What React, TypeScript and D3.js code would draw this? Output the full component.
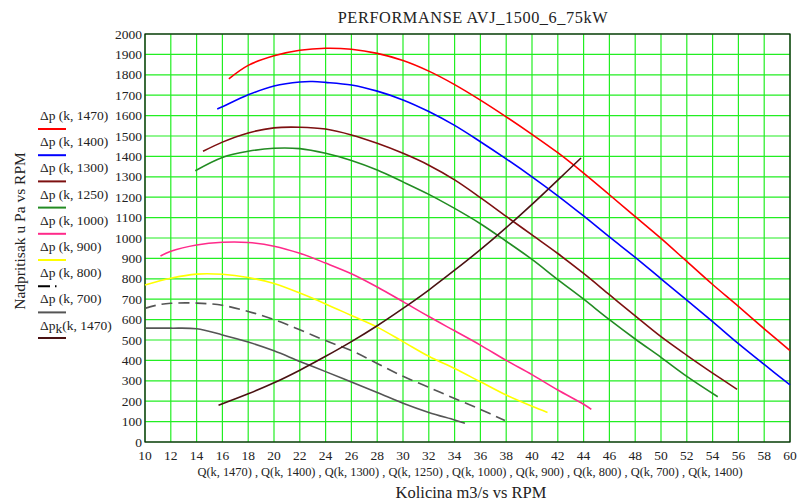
import React from "react";
import * as d3 from "d3";

const W = 798;
const H = 502;

const xTicks = [10, 12, 14, 16, 18, 20, 22, 24, 26, 28, 30, 32, 34, 36, 38, 40, 42, 44, 46, 48, 50, 52, 54, 56, 58, 60];
const yTicks = [0, 100, 200, 300, 400, 500, 600, 700, 800, 900, 1000, 1100, 1200, 1300, 1400, 1500, 1600, 1700, 1800, 1900, 2000];

const q1470 = [16.5, 18, 20, 22, 24, 26, 28, 30, 32, 34, 36, 38, 40, 42, 44, 46, 48, 50, 52, 54, 56, 58, 60];
const p1470 = [1780, 1846, 1893, 1920, 1930, 1925, 1905, 1870, 1818, 1752, 1676, 1594, 1508, 1418, 1318, 1212, 1105, 998, 885, 772, 665, 555, 448];

const q1400 = [15.6, 16, 18, 20, 22, 23, 24, 26, 28, 30, 32, 34, 36, 38, 40, 42, 44, 46, 48, 50, 52, 54, 56, 58, 60];
const p1400 = [1632, 1643, 1702, 1745, 1765, 1767, 1763, 1750, 1720, 1677, 1620, 1552, 1472, 1388, 1300, 1207, 1108, 1005, 905, 800, 696, 590, 482, 380, 280];

const q1300 = [14.5, 16, 18, 20, 22, 24, 26, 28, 30, 32, 34, 36, 38, 40, 42, 44, 46, 48, 50, 52, 54, 55.9];
const p1300 = [1425, 1470, 1515, 1540, 1543, 1534, 1505, 1464, 1415, 1357, 1285, 1198, 1106, 1015, 924, 826, 722, 618, 516, 425, 338, 258];

const q1250 = [13.9, 16, 18, 20, 22, 24, 26, 28, 30, 32, 34, 36, 38, 40, 42, 44, 46, 48, 50, 52, 54.4];
const p1250 = [1330, 1395, 1425, 1440, 1438, 1415, 1380, 1333, 1275, 1214, 1145, 1070, 984, 895, 796, 700, 600, 505, 415, 322, 222];

const q1000 = [11.2, 12, 14, 16, 18, 20, 22, 24, 26, 28, 30, 32, 34, 36, 38, 40, 42, 44, 44.6];
const p1000 = [912, 935, 966, 979, 978, 960, 925, 877, 825, 760, 688, 615, 545, 475, 400, 330, 255, 185, 160];

const q900 = [10, 12, 14, 16, 18, 20, 22, 24, 26, 28, 30, 32, 34, 36, 38, 40, 41.2];
const p900 = [770, 803, 823, 822, 806, 777, 730, 677, 620, 563, 492, 420, 360, 295, 230, 175, 145];

const q800 = [10, 11, 12, 14, 16, 18, 20, 22, 24, 26, 28, 30, 32, 34, 36, 37.9];
const p800 = [655, 672, 680, 681, 670, 640, 600, 550, 497, 448, 385, 322, 268, 213, 160, 105];

const q700 = [10, 12, 14, 16, 18, 20, 22, 24, 26, 28, 30, 32, 34, 34.8];
const p700 = [558, 558, 555, 525, 490, 447, 395, 345, 294, 243, 190, 145, 108, 92];

const qk1470 = [15.7, 18, 20, 22, 24, 26, 28, 30, 32, 34, 36, 38, 40, 42, 43.8];
const pk1470 = [180, 236, 290, 352, 420, 492, 570, 655, 745, 842, 943, 1051, 1165, 1284, 1392];

const legendLabels = ["Δp (k, 1470)", "Δp (k, 1400)", "Δp (k, 1300)", "Δp (k, 1250)", "Δp (k, 1000)", "Δp (k, 900)", "Δp (k, 800)", "Δp (k, 700)"];

const series = [
  { q: q1470, p: p1470, color: "#ff0000", dash: "" },
  { q: q1400, p: p1400, color: "#0000ff", dash: "" },
  { q: q1300, p: p1300, color: "#7d1010", dash: "" },
  { q: q1250, p: p1250, color: "#238b23", dash: "" },
  { q: q1000, p: p1000, color: "#ff2a8a", dash: "" },
  { q: q900, p: p900, color: "#ffff00", dash: "" },
  { q: q800, p: p800, color: "#555555", dash: "11,6" },
  { q: q700, p: p700, color: "#555555", dash: "" },
  { q: qk1470, p: pk1470, color: "#4a1212", dash: "" },
];

const left = 145, right = 790, top = 34, bottom = 442;

export default function App() {
  const x = d3.scaleLinear().domain([10, 60]).range([left, right]);
  const y = d3.scaleLinear().domain([0, 2000]).range([bottom, top]);
  const line = d3
    .line<[number, number]>()
    .x((d) => x(d[0]))
    .y((d) => y(d[1]))
    .curve(d3.curveCatmullRom.alpha(0.5));

  const font = "'Liberation Serif', 'Times New Roman', serif";

  return (
    <svg width={W} height={H} style={{ position: "absolute", left: 0, top: 0, background: "#fff" }} fontFamily={font}>
      <text x={473} y={23} textAnchor="middle" fontSize={16.3} fill="#222" letterSpacing={0.6}>
        PERFORMANSE AVJ_1500_6_75kW
      </text>
      {xTicks.map((t) => (
        <line key={"gx" + t} x1={x(t)} x2={x(t)} y1={top} y2={bottom} stroke="#22ee22" strokeWidth={1.2} />
      ))}
      {yTicks.map((t) => (
        <line key={"gy" + t} x1={left} x2={right} y1={y(t)} y2={y(t)} stroke="#22ee22" strokeWidth={1.2} />
      ))}
      <rect x={left} y={top} width={right - left} height={bottom - top} fill="none" stroke="#111" strokeWidth={1.2} />
      {yTicks.map((t) => (
        <text key={"ty" + t} x={142} y={y(t) + 4.5} textAnchor="end" fontSize={13.5} fill="#222">
          {t}
        </text>
      ))}
      {xTicks.map((t) => (
        <text key={"tx" + t} x={x(t)} y={460} textAnchor="middle" fontSize={13.5} fill="#222">
          {t}
        </text>
      ))}
      {series.map((s, i) => (
        <path
          key={"s" + i}
          d={line(s.q.map((v, j) => [v, s.p[j]] as [number, number])) || ""}
          fill="none"
          stroke={s.color}
          strokeWidth={1.6}
          strokeDasharray={s.dash}
        />
      ))}
      <text x={470} y={476} textAnchor="middle" fontSize={12.4} fill="#222">
        Q(k, 1470) , Q(k, 1400) , Q(k, 1300) , Q(k, 1250) , Q(k, 1000) , Q(k, 900) , Q(k, 800) , Q(k, 700) , Q(k, 1400)
      </text>
      <text x={471} y={498} textAnchor="middle" fontSize={16.5} fill="#222">
        Kolicina m3/s vs RPM
      </text>
      <text transform="translate(25,231) rotate(-90)" textAnchor="middle" fontSize={15.5} fill="#222">
        Nadpritisak u Pa vs RPM
      </text>
      {legendLabels.map((l, i) => (
        <g key={"lg" + i}>
          <text x={40} y={120 + i * 26.2} fontSize={13.5} fill="#222">
            {l}
          </text>
          <line
            x1={38}
            x2={66}
            y1={129 + i * 26.2}
            y2={129 + i * 26.2}
            stroke={i === 6 ? "#000" : series[i].color}
            strokeWidth={2}
            strokeDasharray={i === 6 ? "12,5,1.5,20" : ""}
          />
        </g>
      ))}
      <g>
        <text x={40} y={329.5} fontSize={13.5} fill="#222">
          Δp
          <tspan dy={3} fontSize={13.5}>k</tspan>
          <tspan dy={-3}>(k, 1470)</tspan>
        </text>
        <line x1={38} x2={66} y1={338} y2={338} stroke={series[8].color} strokeWidth={2} />
      </g>
    </svg>
  );
}
